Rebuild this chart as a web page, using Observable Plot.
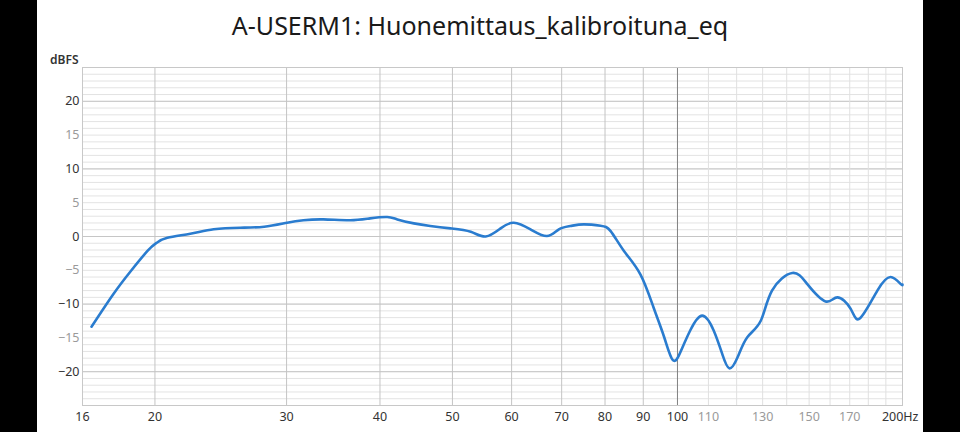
<!DOCTYPE html>
<html>
<head>
<meta charset="utf-8">
<script src="https://cdn.jsdelivr.net/npm/d3@7"></script>
<script src="https://cdn.jsdelivr.net/npm/@observablehq/plot@0.6"></script>
<style>
  html, body { margin: 0; padding: 0; background: #000; width: 960px; height: 432px; overflow: hidden; }
  #card { position: absolute; left: 37px; top: 0; width: 886px; height: 432px; background: #fff; }
  .title { height: 40px; box-sizing: border-box; padding-top: 13px; font: 400 25px/25px "Noto Sans", sans-serif; color: #1a1a1a; text-align: center; }
</style>
</head>
<body>
<div id="card">
  <div class="title">A-USERM1: Huonemittaus_kalibroituna_eq</div>
  <div id="chart"></div>
</div>
<script>
// Frequency (Hz) and level (dBFS)
const freq = [16.45, 17.6, 18.57, 19.56, 20.1, 20.78, 22.3, 23.97, 26.0, 28.0, 30.05, 31.6, 33.6, 36.5, 38.8, 40.9, 42.2, 44.4, 46.7, 49.7, 52.9, 55.4, 58.0, 60.4, 63.6, 66.9, 69.4, 71.9, 74.9, 78.9, 81.4, 84.8, 89.2, 92.9, 96.0, 98.6, 101.0, 104.0, 107.9, 111.8, 114.8, 117.3, 120.3, 124.0, 129.2, 133.8, 142.4, 149.2, 157.8, 163.6, 170.5, 175.5, 185.1, 192.8, 198.8, 200];
const level = [-13.35, -8.5, -5.1, -2.1, -0.95, -0.2, 0.4, 1.06, 1.3, 1.45, 2.04, 2.4, 2.53, 2.4, 2.68, 2.88, 2.53, 1.94, 1.55, 1.2, 0.7, 0.0, 1.2, 2.04, 1.06, 0.07, 1.06, 1.55, 1.8, 1.6, 0.8, -2.14, -5.6, -10.5, -14.9, -18.3, -17.0, -13.9, -11.7, -13.9, -17.4, -19.5, -17.9, -14.9, -12.5, -8.0, -5.4, -7.05, -9.6, -9.0, -10.7, -12.1, -8.0, -6.0, -7.0, -7.1];

const yTicksDark = [-20, -10, 0, 10, 20];
const yTicksLight = [-15, -5, 5, 15];
const yMinor = d3.range(-24, 25, 1);
const xTicksDark = [16, 20, 30, 40, 50, 60, 70, 80, 90, 100];
const xTicksLight = [110, 130, 150, 170];
const xGridMid = [20, 30, 40, 50, 60, 70, 80, 90];
const xGridLight = [110, 120, 130, 140, 150, 160, 170, 180, 190];
const xGridMain = [100];
const xEndLabel = [{f: 200, text: "200Hz"}];

const data = freq.map((f, i) => ({f, v: level[i]}));

const chart = Plot.plot({
  width: 886,
  height: 392,
  marginLeft: 45,
  marginRight: 21,
  marginTop: 27,
  marginBottom: 27,
  style: {fontFamily: "'Noto Sans', sans-serif", fontSize: "12.5px", background: "#fff", overflow: "visible"},
  x: {type: "log", domain: [16, 200]},
  y: {domain: [-25, 25]},
  marks: [
    Plot.ruleY(yMinor, {stroke: "#e3e3e3", strokeWidth: 1}),
    Plot.ruleY(yTicksDark, {stroke: "#c6c6c6", strokeWidth: 1}),
    Plot.ruleX(xGridLight, {stroke: "#e0e0e0", strokeWidth: 1}),
    Plot.ruleX(xGridMid, {stroke: "#c4c4c4", strokeWidth: 1}),
    Plot.ruleX(xGridMain, {stroke: "#808080", strokeWidth: 1}),
    Plot.frame({stroke: "#c8c8c8"}),
    Plot.line(data, {x: "f", y: "v", stroke: "#2a7ccf", strokeWidth: 2.6, curve: "natural"}),
    Plot.axisY(yTicksDark, {tickSize: 0, tickPadding: 3, fill: "#333", label: null}),
    Plot.axisY(yTicksLight, {tickSize: 0, tickPadding: 3, fill: "#9a9a9a", label: null}),
    Plot.axisX(xTicksDark, {tickSize: 0, tickPadding: 7, fill: "#333", label: null, tickFormat: d => String(d)}),
    Plot.axisX(xTicksLight, {tickSize: 0, tickPadding: 7, fill: "#9a9a9a", label: null, tickFormat: d => String(d)}),
    Plot.text(xEndLabel, {x: "f", text: "text", frameAnchor: "bottom", textAnchor: "end", lineAnchor: "top", dx: 16, dy: 7, fill: "#333"}),
    Plot.text(["dBFS"], {frameAnchor: "top-left", text: d => d, textAnchor: "end", dx: -4, dy: -12, fill: "#333", fontWeight: 600, fontSize: 12})
  ]
});
document.getElementById("chart").appendChild(chart);
</script>
</body>
</html>
